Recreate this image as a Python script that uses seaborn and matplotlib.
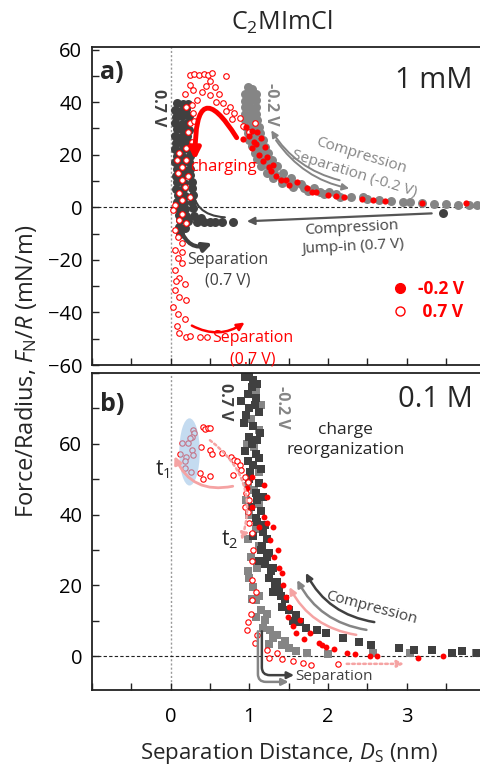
import pandas as pd
import matplotlib
matplotlib.use("Agg")
import matplotlib.pyplot as plt
import seaborn as sns
from matplotlib.patches import FancyArrowPatch, Ellipse
from matplotlib.lines import Line2D
from matplotlib.ticker import MultipleLocator

# ---------------- data ----------------
# panel a) 1 mM
a_dark_x = [0.08, 0.16, 0.22, 0.05, 0.13, 0.20, 0.07, 0.15, 0.23, 0.06, 0.14, 0.21,
            0.08, 0.16, 0.23, 0.05, 0.13, 0.21, 0.07, 0.15, 0.22, 0.06, 0.14, 0.22,
            0.08, 0.16, 0.24, 0.06, 0.14, 0.23, 0.08, 0.17, 0.25, 0.07, 0.15, 0.25,
            0.08, 0.17, 0.27, 0.07, 0.16, 0.27, 0.09, 0.18, 0.28, 0.08, 0.17, 0.27,
            0.09, 0.18, 0.28, 0.10, 0.20, 0.30, 0.38,
            0.12, 0.22, 0.33, 0.43, 0.50, 0.57, 0.65, 0.79, 0.10, 0.18, 0.12, 3.46]
a_dark_y = [39.6, 39.2, 39.4, 37.1, 36.8, 37.3, 34.4, 34.9, 34.6, 32.2, 31.8, 32.0,
            29.7, 29.3, 29.5, 27.1, 26.8, 27.2, 24.6, 24.3, 24.8, 22.1, 21.8, 22.2,
            19.6, 19.3, 19.7, 17.1, 16.8, 17.2, 14.6, 14.3, 14.7, 12.1, 11.8, 12.2,
            9.6, 9.3, 9.7, 7.1, 6.8, 7.2, 4.6, 4.3, 4.7, 2.1, 1.8, 2.2,
            -0.4, -0.7, -0.3, -2.9, -3.2, -3.4, -4.0,
            -5.0, -5.2, -5.4, -5.5, -5.6, -5.7, -5.7, -5.7, -7.5, -7.8, -10.0, -2.3]

a_gray_x = [0.98, 1.04, 0.95, 1.02, 1.08, 0.94, 1.01, 1.08, 0.95, 1.02, 1.09,
            0.94, 1.01, 1.09, 0.95, 1.03, 1.10, 0.96, 1.04, 1.12, 0.98, 1.06, 1.14,
            1.00, 1.09, 1.17, 1.03, 1.12, 1.20, 1.07, 1.16, 1.24, 1.10, 1.20, 1.29,
            1.15, 1.25, 1.35, 1.22, 1.32, 1.43, 1.30, 1.42, 1.53, 1.42, 1.55, 1.66,
            1.55, 1.70, 1.82, 1.75, 1.90, 2.02, 1.95, 2.10, 2.15, 2.30, 2.45,
            2.50, 2.65, 2.80, 2.95, 3.05, 3.20, 3.35, 3.50, 3.65, 3.80, 3.90]
a_gray_y = [45.6, 45.2, 43.1, 42.8, 43.2, 40.6, 40.3, 40.7, 38.1, 37.8, 38.2,
            35.6, 35.3, 35.7, 33.1, 32.8, 33.2, 30.6, 30.3, 30.7, 28.3, 27.9, 28.1,
            25.8, 25.4, 25.6, 23.3, 22.9, 23.1, 20.8, 20.4, 20.6, 18.3, 17.9, 18.1,
            15.8, 15.4, 15.6, 13.2, 12.9, 13.1, 11.2, 10.9, 11.0, 9.2, 8.9, 9.0,
            7.7, 7.4, 7.5, 6.2, 5.9, 6.0, 5.1, 4.9, 4.1, 3.9, 4.0,
            3.1, 2.9, 2.4, 2.2, 1.9, 1.7, 1.4, 1.2, 1.0, 0.9, 0.8]

a_red_fill_x = [0.92, 0.96, 1.03, 1.10, 1.06, 1.15, 1.04, 1.12, 1.20, 1.18, 1.25, 1.30,
                1.34, 1.40, 1.47, 1.61, 1.73, 1.80, 2.00, 2.21, 2.43, 2.57, 2.72, 3.20,
                3.76, 1.00, 1.08, 1.22, 1.28, 1.50, 1.85, 2.10]
a_red_fill_y = [26.0, 30.5, 29.0, 28.6, 25.0, 26.5, 22.5, 20.0, 23.0, 17.5, 15.5, 16.0,
                12.0, 10.5, 10.3, 9.5, 7.2, 5.7, 4.6, 3.8, 3.0, 2.7, 2.3, 1.5,
                1.5, 27.0, 24.0, 19.0, 14.0, 8.5, 6.0, 4.2]

a_red_open_x = [0.24, 0.30, 0.36, 0.42, 0.47, 0.52, 0.71, 0.50, 0.56, 0.62, 0.50, 0.58,
                0.66, 0.75, 0.81, 0.88, 0.92, 1.00, 1.07, 0.70, 0.78, 0.45, 0.40,
                0.18, 0.24, 0.28, 0.33, 0.27, 0.28, 0.24, 0.22, 0.27, 0.20, 0.11, 0.08,
                0.15, 0.09, 0.14, 0.18, 0.11, 0.15, 0.05, 0.20, 0.22, 0.25, 0.30, 0.20,
                0.03, 0.11, 0.05, 0.09, 0.14, 0.05, 0.09, 0.15, 0.05, 0.11, 0.18, 0.05,
                0.11, 0.20, 0.03, 0.09, 0.18, 0.08, 0.11, 0.20, 0.24, 0.37, 0.46, 0.20,
                0.15, 0.07, 0.15]
a_red_open_y = [50.5, 50.8, 50.5, 50.8, 50.3, 51.0, 50.0, 48.0, 45.7, 43.0, 42.7, 40.0,
                39.6, 38.0, 36.0, 34.0, 31.0, 28.6, 32.0, 36.5, 33.5, 46.0, 44.0,
                43.0, 46.5, 44.6, 40.8, 38.8, 35.8, 32.0, 28.6, 24.8, 22.5, 20.6, 17.9,
                15.2, 13.0, 10.3, 7.6, 5.3, 2.7, 1.0, 18.0, 12.0, 4.0, 33.0, 38.0,
                -1.0, -5.0, -8.8, -11.4, -13.7, -16.4, -19.4, -21.3, -24.0, -26.7, -29.0, -31.6,
                -34.3, -35.4, -38.0, -40.4, -42.3, -45.0, -48.0, -49.5, -48.8, -49.5, -49.5, -6.0,
                -2.5, -28.0, -17.0]

# panel b) 0.1 M
b_dark_x = [0.95, 1.05, 1.10, 0.98, 1.08, 1.00, 1.12, 0.93, 1.05, 1.00, 1.10, 0.95,
            1.08, 1.05, 1.15, 1.00, 1.12, 1.08, 1.18, 1.02, 1.15, 1.10, 1.20, 1.05,
            1.22, 1.15, 1.25, 1.20, 1.30, 1.25, 1.35, 1.30, 1.40, 1.42, 1.50, 1.55,
            1.65, 1.72, 1.86, 1.98, 2.19, 2.40, 2.55, 2.91, 3.10, 3.32, 3.58, 3.71,
            3.90, 1.03, 0.90, 1.14, 0.98, 1.10, 1.17, 1.12, 1.28, 1.38, 1.45, 1.60,
            1.00, 1.07, 0.96, 1.04, 1.13, 1.01, 1.09, 1.16, 1.22, 1.33]
b_dark_y = [79.0, 78.0, 77.0, 74.0, 73.0, 70.0, 69.0, 66.0, 65.0, 62.0, 61.0, 58.0,
            57.0, 54.0, 53.0, 50.0, 49.0, 46.0, 45.0, 42.0, 41.0, 38.0, 37.0, 34.0,
            33.0, 30.0, 29.0, 26.0, 25.0, 22.0, 21.0, 18.0, 17.0, 14.0, 13.0, 10.0,
            9.5, 8.0, 7.4, 6.5, 5.0, 4.0, 3.1, 2.3, 1.7, 1.7, 0.8, 1.4,
            0.9, 76.0, 72.0, 63.0, 55.0, 44.0, 35.0, 27.0, 24.0, 19.0, 16.0, 11.5,
            80.0, 71.0, 68.0, 60.0, 56.0, 52.0, 39.0, 31.0, 28.0, 20.0]

b_gray_x = [1.00, 1.08, 1.15, 1.02, 1.12, 0.97, 1.06, 1.12, 0.98, 1.06, 0.96, 1.13,
            1.00, 1.08, 0.98, 1.12, 1.02, 1.10, 0.99, 1.00, 1.05, 1.09, 1.15, 1.20,
            1.26, 1.30, 1.41, 1.51, 1.60, 1.74, 2.00, 2.57, 3.04, 3.89, 1.13, 1.22,
            1.35, 1.45, 1.03, 1.18, 1.25, 1.08]
b_gray_y = [80.0, 75.0, 71.0, 67.0, 64.0, 60.0, 59.0, 52.0, 48.0, 47.0, 44.0, 43.0,
            40.0, 36.0, 33.0, 31.0, 28.0, 25.0, 24.0, 22.0, 19.5, 15.8, 13.0, 10.2,
            7.4, 5.0, 3.1, 2.3, 1.5, 0.8, 0.6, 0.8, 0.8, 0.8, 17.0, 12.0,
            6.0, 4.2, 16.0, 8.0, 3.5, 11.0]

b_red_fill_x = [1.04, 1.19, 0.97, 1.22, 1.04, 1.19, 1.23, 1.13, 1.30, 1.26, 1.36, 1.32,
                1.41, 1.43, 1.47, 1.51, 1.49, 1.64, 1.60, 1.77, 1.89, 1.98, 2.08, 2.24,
                2.34, 2.53, 2.63, 3.14, 3.46, 1.38, 1.55, 1.70, 1.93]
b_red_fill_y = [50.6, 48.4, 47.5, 45.0, 42.2, 39.3, 37.6, 36.5, 36.5, 32.8, 30.0, 28.0,
                23.5, 20.0, 16.7, 13.9, 11.0, 10.2, 6.5, 6.5, 3.7, 2.5, 2.0, 0.8,
                0.6, 0.0, 0.0, -0.6, 0.0, 25.0, 8.5, 4.8, 3.0]

b_red_open_x = [0.41, 0.44, 0.47, 0.50, 0.28, 0.30, 0.27, 0.15, 0.22, 0.27, 0.28, 0.20,
                0.18, 0.18, 0.26, 0.37, 0.41, 0.50, 0.39, 0.50, 0.52, 0.65, 0.77, 0.81,
                0.85, 0.88, 0.90, 0.79, 0.94, 0.98, 0.96, 0.98, 1.00, 1.03, 1.03, 1.04,
                1.03, 0.98, 0.97, 1.07, 1.22, 1.35, 1.41, 1.55, 1.68, 1.79, 2.13, 0.24,
                0.12, 1.00, 0.95, 1.05, 1.08, 1.02, 1.10, 1.25]
b_red_open_y = [64.8, 64.3, 64.6, 64.4, 64.0, 63.0, 62.0, 60.3, 60.2, 58.3, 56.8, 56.3,
                55.0, 53.2, 52.0, 51.8, 50.0, 51.0, 59.0, 58.3, 57.2, 57.4, 56.3, 55.4,
                55.0, 54.0, 52.6, 51.2, 50.6, 49.2, 46.0, 40.7, 37.6, 34.8, 27.0, 21.5,
                15.8, 9.6, 7.4, 3.7, 1.7, 0.8, -0.8, -1.4, -2.0, -2.5, -2.3, 61.5,
                57.0, 44.0, 42.0, 30.0, 18.0, 12.0, 6.0, -0.5]

DARK, GRAY, RED, PINK = '#404040', '#858585', '#ff0000', '#f5a3a3'

a_dark = pd.DataFrame({'D': a_dark_x, 'F': a_dark_y})
a_gray = pd.DataFrame({'D': a_gray_x, 'F': a_gray_y})
a_rf = pd.DataFrame({'D': a_red_fill_x, 'F': a_red_fill_y})
a_ro = pd.DataFrame({'D': a_red_open_x, 'F': a_red_open_y})
b_dark = pd.DataFrame({'D': b_dark_x, 'F': b_dark_y})
b_gray = pd.DataFrame({'D': b_gray_x, 'F': b_gray_y})
b_rf = pd.DataFrame({'D': b_red_fill_x, 'F': b_red_fill_y})
b_ro = pd.DataFrame({'D': b_red_open_x, 'F': b_red_open_y})

# ---------------- style ----------------
sns.set_style("ticks")
plt.rcParams['font.family'] = ['Open Sans', 'DejaVu Sans']
plt.rcParams['mathtext.fontset'] = 'custom'
plt.rcParams['mathtext.rm'] = 'Open Sans'
plt.rcParams['mathtext.it'] = 'Open Sans:italic'
plt.rcParams['axes.edgecolor'] = '#222222'
plt.rcParams['axes.linewidth'] = 1.3


def arrow(ax, a, b, color, lw=1.5, rad=0.0, ls='-', ms=12, conn=None, style='-|>'):
    p = FancyArrowPatch(a, b, arrowstyle=style, mutation_scale=ms,
                        connectionstyle=conn or f'arc3,rad={rad}',
                        color=color, lw=lw, linestyle=ls, shrinkA=0, shrinkB=0, zorder=6)
    ax.add_patch(p)


fig = plt.figure(figsize=(4.8, 7.76), dpi=100)
ax_a = fig.add_axes([0.1917, 0.5296, 0.8354, 0.4098])
ax_b = fig.add_axes([0.1917, 0.1108, 0.8354, 0.4085])

for ax in (ax_a, ax_b):
    ax.set_xlim(-1, 4.1)
    ax.axvline(0, color='#999999', ls=(0, (1.5, 1.5)), lw=1, zorder=0)
    ax.axhline(0, color='#222222', ls=(0, (3, 2)), lw=0.8, zorder=0)
    ax.set_xticks([0, 1, 2, 3])
    ax.xaxis.set_minor_locator(MultipleLocator(0.5))
    ax.yaxis.set_minor_locator(MultipleLocator(10))
    ax.tick_params(which='both', direction='in', length=5, width=1, labelsize=14.5,
                   colors='#222222', labelcolor='black')
    ax.tick_params(axis='y', pad=7)
    ax.tick_params(axis='x', pad=12)

# ---------------- panel a ----------------
ax = ax_a
ax.set_ylim(-60, 61)
ax.set_yticks(range(-60, 61, 20))
ax.tick_params(axis='x', labelbottom=False)
sns.scatterplot(data=a_dark, x='D', y='F', color=DARK, s=42, linewidth=0, ax=ax, zorder=2)
sns.scatterplot(data=a_gray, x='D', y='F', color=GRAY, s=42, linewidth=0, ax=ax, zorder=2)
sns.scatterplot(data=a_rf, x='D', y='F', color=RED, s=20, linewidth=0, ax=ax, zorder=4)
sns.scatterplot(data=a_ro, x='D', y='F', facecolor='white', edgecolor=RED, s=16,
                linewidth=0.8, ax=ax, zorder=3)
ax.set_xlabel('')
ax.set_ylabel('')

ax.text(-0.9, 51.4, 'a)', fontsize=18, fontweight='bold', va='center', ha='left')
ax.text(3.84, 48.4, '1 mM', fontsize=21, va='center', ha='right')
ax.text(-0.165, 38, '0.7 V', rotation=-90, fontsize=11.5, fontweight='bold', color=DARK,
        ha='center', va='center')
ax.text(1.28, 39.2, '-0.2 V', rotation=-90, fontsize=11.5, fontweight='bold', color=GRAY,
        ha='center', va='center')
ax.text(0.67, 15.2, 'charging', fontsize=12, color=RED, ha='center', va='center')
arrow(ax, (0.84, 26.5), (0.31, 18.0), RED, lw=3.5, ms=16,
      conn='angle3,angleA=122,angleB=90')
arrow(ax, (0.69, -3.8), (0.28, 9.5), DARK, lw=1.5, rad=-0.48, ms=10)
arrow(ax, (3.32, -2.3), (0.97, -5.3), '#555555', lw=1.6, ms=11)
ax.text(2.31, -11.5, 'Compression\nJump-in (0.7 V)', fontsize=11, color=DARK, rotation=3,
        ha='center', va='center', linespacing=1.3)
arrow(ax, (0.12, -8), (0.53, -13.7), DARK, lw=3, rad=0.5, ms=13)
ax.text(0.72, -24, 'Separation\n(0.7 V)', fontsize=11.5, color=DARK, ha='center', va='center',
        linespacing=1.4)
arrow(ax, (2.15, 10.3), (1.28, 29.3), GRAY, lw=1.4, rad=-0.2, ms=10)
arrow(ax, (1.34, 25.5), (2.27, 7.2), GRAY, lw=1.4, rad=0.2, ms=10)
ax.text(2.43, 19.8, 'Compression', fontsize=11, color=GRAY, rotation=-17, ha='center', va='center')
ax.text(2.34, 12.6, 'Separation (-0.2 V)', fontsize=11, color=GRAY, rotation=-17,
        ha='center', va='center')
arrow(ax, (0.27, -45), (0.94, -43.8), RED, lw=1.8, rad=0.3, ms=11)
ax.text(1.04, -53.8, 'Separation\n(0.7 V)', fontsize=11.5, color=RED, ha='center', va='center',
        linespacing=1.4)

h1 = Line2D([], [], marker='o', ls='none', color=RED, markersize=7)
h2 = Line2D([], [], marker='o', ls='none', markerfacecolor='white', markeredgecolor=RED,
            markersize=6.5, markeredgewidth=1)
ax.legend([h1, h2], ['-0.2 V', ' 0.7 V'], loc='upper left', bbox_to_anchor=(0.73, 0.29),
          frameon=False, labelcolor=RED, prop={'weight': 'bold', 'size': 12.5},
          handletextpad=0.5, labelspacing=0.3, borderaxespad=0, handlelength=1.0)

# ---------------- panel b ----------------
ax = ax_b
ax.set_ylim(-9.6, 80)
ax.set_yticks([0, 20, 40, 60])
sns.scatterplot(data=b_gray, x='D', y='F', color=GRAY, marker='s', s=28, linewidth=0, ax=ax, zorder=2)
sns.scatterplot(data=b_dark, x='D', y='F', color=DARK, marker='s', s=28, linewidth=0, ax=ax, zorder=2)
sns.scatterplot(data=b_rf, x='D', y='F', color=RED, s=18, linewidth=0, ax=ax, zorder=3)
sns.scatterplot(data=b_ro, x='D', y='F', facecolor='white', edgecolor=RED, s=15,
                linewidth=0.8, ax=ax, zorder=3)
ax.set_xlabel('')
ax.set_ylabel('')

ax.add_patch(Ellipse((0.24, 57.7), 0.26, 19, color='#9dc3e6', alpha=0.6, lw=0, zorder=4))
ax.text(-0.9, 71, 'b)', fontsize=18, fontweight='bold', va='center', ha='left')
ax.text(3.84, 72.4, '0.1 M', fontsize=21, va='center', ha='right')
ax.text(0.69, 71.9, '0.7 V', rotation=-90, fontsize=11.5, fontweight='bold', color=DARK,
        ha='center', va='center')
ax.text(1.42, 70.4, '-0.2 V', rotation=-90, fontsize=11.5, fontweight='bold', color=GRAY,
        ha='center', va='center')
ax.text(2.22, 61, 'charge\nreorganization', fontsize=12.5, ha='center', va='center',
        linespacing=1.35)
ax.text(-0.2, 52.6, 't$_1$', fontsize=15, ha='left', va='center')
ax.text(0.64, 32.8, 't$_2$', fontsize=15, ha='left', va='center')
arrow(ax, (0.79, 48), (0.05, 56.5), PINK, lw=2, rad=-0.4, ms=11)
arrow(ax, (0.50, 61), (0.90, 32.8), PINK, lw=1.8, rad=-0.35, ls=(0, (1, 1.2)), ms=10)
arrow(ax, (2.36, 6.0), (1.51, 19.5), PINK, lw=1.8, rad=-0.25, ms=10)
arrow(ax, (2.49, 7.4), (1.61, 21.5), GRAY, lw=1.8, rad=-0.25, ms=10)
arrow(ax, (2.59, 9.6), (1.72, 23.5), DARK, lw=1.8, rad=-0.25, ms=10)
ax.text(2.55, 13.6, 'Compression', fontsize=11, color=DARK, rotation=-15, ha='center', va='center')
arrow(ax, (1.11, 7), (1.50, -7.3), GRAY, lw=1.8, ms=10,
      conn='angle,angleA=-90,angleB=0,rad=8')
arrow(ax, (1.16, 7), (1.57, -5.4), DARK, lw=1.8, ms=10,
      conn='angle,angleA=-90,angleB=0,rad=8')
ax.text(2.08, -5.7, 'Separation', fontsize=11, color=DARK, ha='center', va='center')
arrow(ax, (2.24, -2.2), (2.97, -2.2), PINK, lw=1.8, ls=(0, (1, 1.2)), ms=10)

# ---------------- figure labels ----------------
fig.text(282 / 480, 1 - 22 / 776, r'C$_2$MImCl', ha='center', va='center', fontsize=18)
fig.text(26 / 480, 1 - 371 / 776, r'Force/Radius, $F_\mathrm{N}/R$ (mN/m)', rotation=90,
         ha='center', va='center', fontsize=17)
fig.text(289 / 480, 1 - 753 / 776, r'Separation Distance, $D_\mathrm{S}$ (nm)',
         ha='center', va='center', fontsize=16)

fig.savefig('out.png', dpi=100)
